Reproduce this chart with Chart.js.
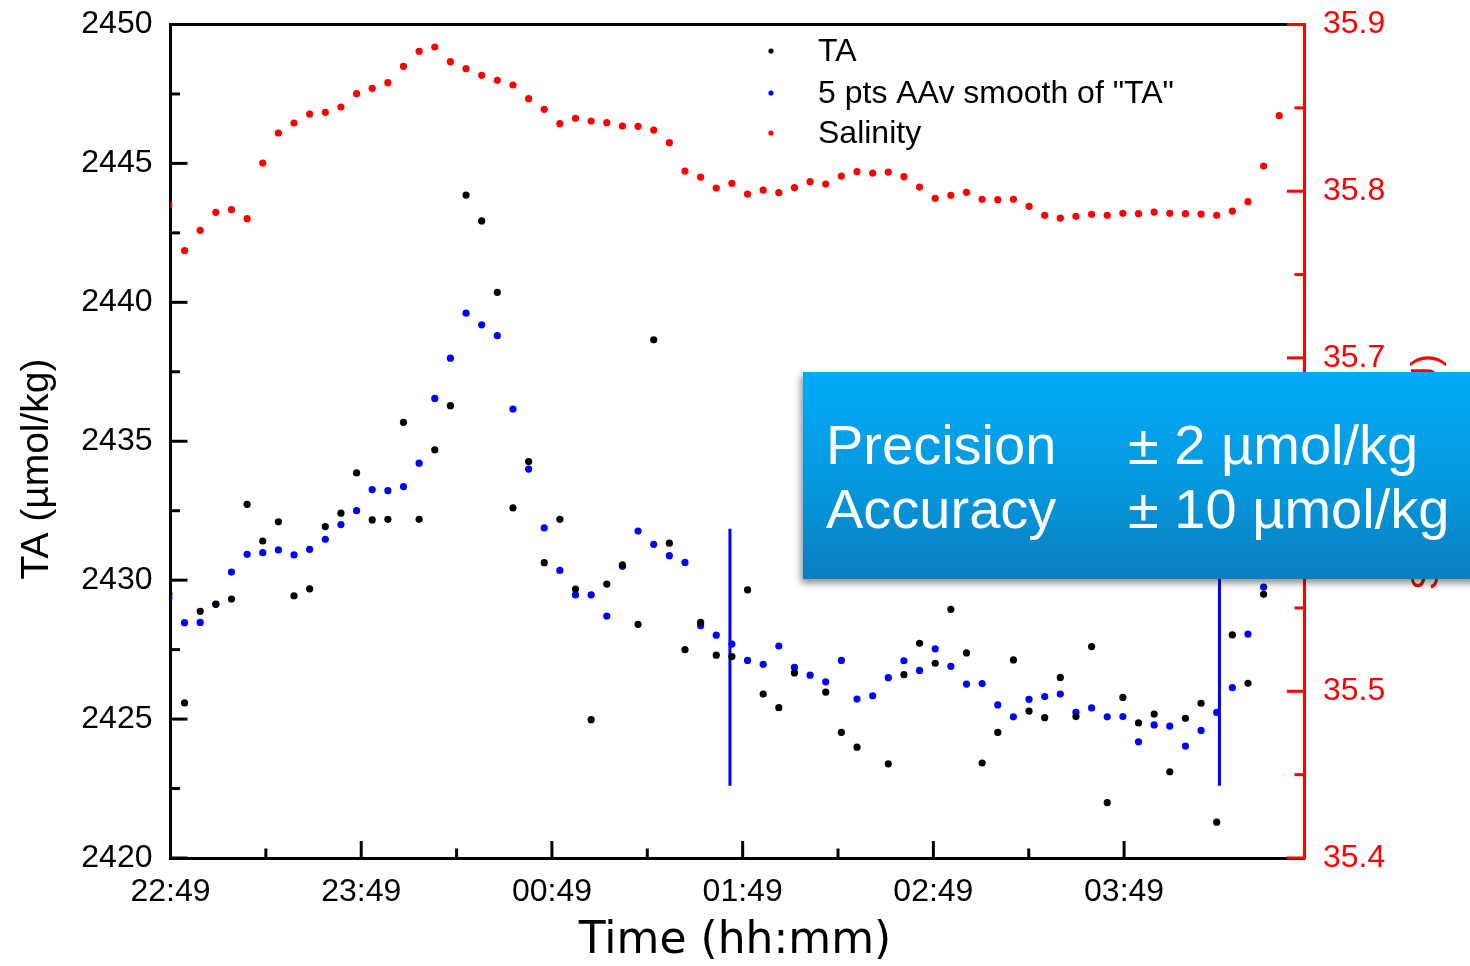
<!DOCTYPE html>
<html>
<head>
<meta charset="utf-8">
<script src="https://cdn.jsdelivr.net/npm/chart.js@4.4.1/dist/chart.umd.min.js"></script>
<style>
  html, body { margin: 0; padding: 0; background: #fff; }
  #wrap { width: 1470px; height: 966px; }
</style>
</head>
<body>
<div id="wrap"><canvas id="chart" width="1470" height="966"></canvas></div>
<script>
// samples roughly every 4.9 minutes, starting at 22:49
const sampleStart = -0.5;
const sampleStep = 4.92;

const ta = [
  2429.5, 2425.58, 2428.88, 2429.14, 2429.32, 2432.73, 2431.41, 2432.10, 2429.44, 2429.69,
  2431.93, 2432.41, 2433.86, 2432.17, 2432.19, 2435.68, 2432.19, 2434.69, 2436.28, 2443.86,
  2442.93, 2440.36, 2432.60, 2434.27, 2430.63, 2432.19, 2429.68, 2424.98, 2429.86, 2430.55,
  2428.41, 2438.65, 2431.33, 2427.50, 2428.48, 2427.30, 2427.25, 2429.65, 2425.90, 2425.41,
  2426.66, 2430.34, 2425.97, 2424.52, 2423.99, 2430.70, 2423.39, 2426.60, 2427.73, 2427.01,
  2428.95, 2427.38, 2423.42, 2424.52, 2427.13, 2425.29, 2425.05, 2426.50, 2425.09, 2427.61,
  2421.99, 2425.78, 2424.86, 2425.18, 2423.10, 2425.03, 2425.57, 2421.29, 2428.03, 2426.29,
  2429.49, 2435.20
];

const taSmooth = [
  2429.36, 2428.47, 2428.48, 2429.13, 2430.29, 2430.93, 2430.99, 2431.09, 2430.91, 2431.11,
  2431.47, 2432.00, 2432.50, 2433.26, 2433.22, 2433.37, 2434.21, 2436.54, 2437.99, 2439.61,
  2439.19, 2438.80, 2436.16, 2434.00, 2431.88, 2430.35, 2429.47, 2429.47, 2428.71, 2430.50,
  2431.77, 2431.29, 2430.88, 2430.64, 2428.36, 2428.02, 2427.70, 2427.11, 2426.97, 2427.63,
  2426.86, 2426.58, 2426.34, 2427.11, 2425.72, 2425.84, 2426.49, 2427.10, 2426.75, 2427.53,
  2426.90, 2426.26, 2426.28, 2425.51, 2425.08, 2425.71, 2425.81, 2425.90, 2425.24, 2425.40,
  2425.08, 2425.09, 2424.18, 2424.79, 2424.75, 2424.03, 2424.59, 2425.24, 2426.13, 2428.06,
  2429.75, 2430.30
];

const salinity = [
  35.7917, 35.7643, 35.7765, 35.7873, 35.7889, 35.7835, 35.8169, 35.8349, 35.8409, 35.8463,
  35.8473, 35.8505, 35.8585, 35.8617, 35.8651, 35.8749, 35.8839, 35.8865, 35.8777, 35.8735,
  35.8695, 35.8665, 35.8637, 35.8555, 35.8491, 35.8405, 35.8437, 35.8421, 35.8411, 35.8391,
  35.8389, 35.8367, 35.8291, 35.8121, 35.8085, 35.8019, 35.8047, 35.7983, 35.8007, 35.7991,
  35.8021, 35.8057, 35.8043, 35.8091, 35.8117, 35.8109, 35.8115, 35.8087, 35.8025, 35.7957,
  35.7975, 35.7993, 35.7951, 35.7949, 35.7951, 35.7909, 35.7855, 35.7839, 35.7849, 35.7861,
  35.7855, 35.7867, 35.7865, 35.7875, 35.7867, 35.7865, 35.7863, 35.7855, 35.7881, 35.7937,
  35.8151, 35.8453
];

// vertical blue markers (minutes after 22:49) and their TA extent
const markerTimes = [176, 330];
const markerRange = [2422.6, 2431.85];

const timeLabels = ['22:49', '23:49', '00:49', '01:49', '02:49', '03:49'];
const taTickLabels = [2420, 2425, 2430, 2435, 2440, 2445, 2450];
const salTickLabels = ['35.4', '35.5', '35.6', '35.7', '35.8', '35.9'];

const FONT = "'Liberation Sans', Arial, sans-serif";

function pts(arr) {
  return arr.map((v, i) => ({ x: sampleStart + i * sampleStep, y: v }));
}

const markerSets = markerTimes.map(t => ({
  label: '_marker',
  data: [{ x: t, y: markerRange[0] }, { x: t, y: markerRange[1] }],
  yAxisID: 'y',
  showLine: true,
  borderColor: '#0000ff',
  borderWidth: 3,
  pointRadius: 0,
  clip: 0
}));

// labels may hang past the plot edges; keep the plot box where the reference has it
function noPad(s) {
  s.paddingTop = 0; s.paddingBottom = 0; s.paddingLeft = 0; s.paddingRight = 0;
}

const decor = {
  id: 'decor',
  afterDatasetsDraw(chart) {
    const ctx = chart.ctx, a = chart.chartArea, s = chart.scales;
    ctx.save();
    ctx.lineWidth = 3;
    ctx.strokeStyle = '#000';
    s.x.ticks.forEach(t => {
      const px = s.x.getPixelForValue(t.value);
      const len = t.label ? 17 : 9.5;
      ctx.beginPath(); ctx.moveTo(px, a.bottom); ctx.lineTo(px, a.bottom - len); ctx.stroke();
    });
    s.y.ticks.forEach(t => {
      const py = s.y.getPixelForValue(t.value);
      const len = t.label ? 17 : 9.5;
      ctx.beginPath(); ctx.moveTo(a.left, py); ctx.lineTo(a.left + len, py); ctx.stroke();
    });
    ctx.strokeStyle = '#ff0000';
    s.y1.ticks.forEach(t => {
      const py = s.y1.getPixelForValue(t.value);
      const len = t.label ? 17 : 9.5;
      ctx.beginPath(); ctx.moveTo(a.right, py); ctx.lineTo(a.right - len, py); ctx.stroke();
    });
    ctx.restore();
  },
  afterDraw(chart) {
    const ctx = chart.ctx;
    ctx.save();

    // axis titles
    ctx.textAlign = 'center';
    ctx.textBaseline = 'middle';
    ctx.fillStyle = '#000';
    ctx.font = "44px 'DejaVu Sans', sans-serif";
    ctx.fillText('Time (hh:mm)', 735, 942);

    ctx.font = '39px ' + FONT;
    ctx.save();
    ctx.translate(37, 469);
    ctx.rotate(-Math.PI / 2);
    ctx.fillText('TA (µmol/kg)', 0, 0);
    ctx.restore();

    ctx.fillStyle = '#ff0000';
    ctx.font = '38px ' + FONT;
    ctx.save();
    ctx.translate(1428, 472);
    ctx.rotate(-Math.PI / 2);
    ctx.fillText('Salinity (PSU)', 0, 0);
    ctx.restore();

    // legend
    ctx.textAlign = 'left';
    ctx.font = '32px ' + FONT;
    const rows = [51, 93, 133];
    chart.data.datasets.slice(0, 3).forEach((d, i) => {
      ctx.fillStyle = d.backgroundColor;
      ctx.beginPath(); ctx.arc(771, rows[i], 2.6, 0, Math.PI * 2); ctx.fill();
      ctx.fillStyle = '#000';
      ctx.fillText(d.label, 818, rows[i] + 1);
    });

    // precision / accuracy box
    ctx.save();
    ctx.shadowColor = 'rgba(0,0,0,0.45)';
    ctx.shadowBlur = 7;
    ctx.shadowOffsetX = -2;
    ctx.shadowOffsetY = 4;
    const g = ctx.createLinearGradient(0, 372, 0, 579);
    g.addColorStop(0, '#02aaf8');
    g.addColorStop(0.55, '#0598dd');
    g.addColorStop(1, '#0a7ec0');
    ctx.fillStyle = g;
    ctx.fillRect(803, 372, 700, 207);
    ctx.restore();

    ctx.fillStyle = '#ffffff';
    ctx.font = '56px ' + FONT;
    ctx.textBaseline = 'alphabetic';
    ctx.fillText('Precision', 826, 464);
    ctx.fillText('± 2 µmol/kg', 1128, 464);
    ctx.fillText('Accuracy', 826, 528);
    ctx.fillText('± 10 µmol/kg', 1128, 528);

    ctx.restore();
  }
};

const fmtTime = v => (v % 60 === 0 && timeLabels[v / 60]) ? timeLabels[v / 60] : '';

new Chart(document.getElementById('chart'), {
  type: 'scatter',
  data: {
    datasets: [
      { label: 'TA', data: pts(ta), yAxisID: 'y', backgroundColor: '#000000', pointRadius: 3.6, pointBorderWidth: 0, clip: 0 },
      { label: '5 pts AAv smooth of "TA"', data: pts(taSmooth), yAxisID: 'y', backgroundColor: '#0000ff', pointRadius: 3.6, pointBorderWidth: 0, clip: 0 },
      { label: 'Salinity', data: pts(salinity), yAxisID: 'y1', backgroundColor: '#ff0000', pointRadius: 3.6, pointBorderWidth: 0, clip: 0 },
      ...markerSets
    ]
  },
  options: {
    responsive: false,
    devicePixelRatio: 1,
    animation: false,
    layout: { padding: 0 },
    plugins: { legend: { display: false }, tooltip: { enabled: false } },
    scales: {
      x: {
        type: 'linear', position: 'bottom', min: 0, max: 356.6,
        afterFit: s => { s.height = 108; noPad(s); },
        afterBuildTicks: s => { s.ticks = s.ticks.filter(t => Math.abs(t.value % 30) < 1e-6); },
        grid: { drawOnChartArea: false, drawTicks: false },
        border: { color: '#000', width: 3 },
        ticks: { stepSize: 30, autoSkip: false, maxRotation: 0, padding: 15, color: '#000', font: { family: FONT, size: 32 }, callback: fmtTime }
      },
      x2: {
        type: 'linear', position: 'top', min: 0, max: 356.6,
        afterFit: s => { s.height = 24.5; noPad(s); },
        grid: { drawOnChartArea: false, drawTicks: false },
        border: { color: '#000', width: 3 },
        ticks: { display: false }
      },
      y: {
        position: 'left', min: 2420, max: 2450,
        afterFit: s => { s.width = 170.5; noPad(s); },
        grid: { drawOnChartArea: false, drawTicks: false },
        border: { color: '#000', width: 3 },
        ticks: {
          stepSize: 2.5, autoSkip: false, padding: 18, color: '#000', font: { family: FONT, size: 32 },
          callback: v => taTickLabels.includes(v) ? String(v) : ''
        }
      },
      y1: {
        position: 'right', min: 35.4, max: 35.9,
        afterFit: s => { s.width = 166; noPad(s); },
        grid: { drawOnChartArea: false, drawTicks: false },
        border: { color: '#ff0000', width: 3 },
        ticks: {
          stepSize: 0.05, autoSkip: false, padding: 19, color: '#ff0000', font: { family: FONT, size: 32 },
          callback: v => { const l = v.toFixed(1); return Math.abs(v * 10 - Math.round(v * 10)) < 1e-6 && salTickLabels.includes(l) ? l : ''; }
        }
      }
    }
  },
  plugins: [decor]
});
</script>
</body>
</html>
